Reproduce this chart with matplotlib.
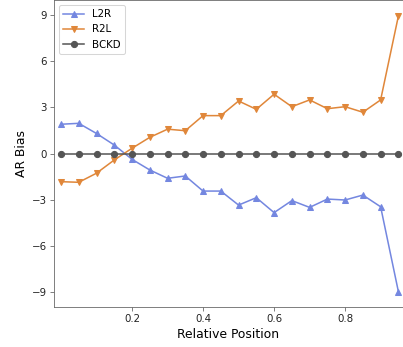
import matplotlib
matplotlib.use('Agg')
import matplotlib.pyplot as plt

# relative position of the bins
pos = [0.0, 0.05, 0.1, 0.15, 0.2, 0.25, 0.3, 0.35, 0.4, 0.45,
       0.5, 0.55, 0.6, 0.65, 0.7, 0.75, 0.8, 0.85, 0.9, 0.95]

l2r = [1.90, 1.96, 1.30, 0.55, -0.38, -1.07, -1.61, -1.46, -2.44, -2.44,
       -3.35, -2.87, -3.84, -3.06, -3.50, -2.96, -3.02, -2.70, -3.46, -8.97]
r2l = [-1.83, -1.87, -1.28, -0.42, 0.34, 1.05, 1.58, 1.48, 2.46, 2.46,
       3.41, 2.87, 3.85, 3.04, 3.48, 2.91, 3.04, 2.68, 3.48, 8.93]
bckd = [0.0] * len(pos)

DPI = 74
fig = plt.figure(figsize=(403 / DPI, 347 / DPI), dpi=DPI)
ax = fig.add_axes([54 / 403, 40 / 347, 1 - 54 / 403, 307 / 347])

ax.plot(pos, l2r, marker='^', color='#7487e0', label='L2R')
ax.plot(pos, r2l, marker='v', color='#e0873a', label='R2L')
ax.plot(pos, bckd, marker='o', color='#555555', label='BCKD')

ax.set_xlim(-0.0197, 0.963)
ax.set_ylim(-9.97, 9.97)
ax.set_xticks([0.2, 0.4, 0.6, 0.8])
ax.set_yticks([-9, -6, -3, 0, 3, 6, 9])

for s in ax.spines.values():
    s.set_color('#666666')
ax.tick_params(colors='#666666', labelcolor='#222222')

ax.set_xlabel('Relative Position', fontsize=12)
ax.set_ylabel('AR Bias', fontsize=12)
ax.legend(loc='upper left')

fig.savefig('out.png', dpi=DPI)
